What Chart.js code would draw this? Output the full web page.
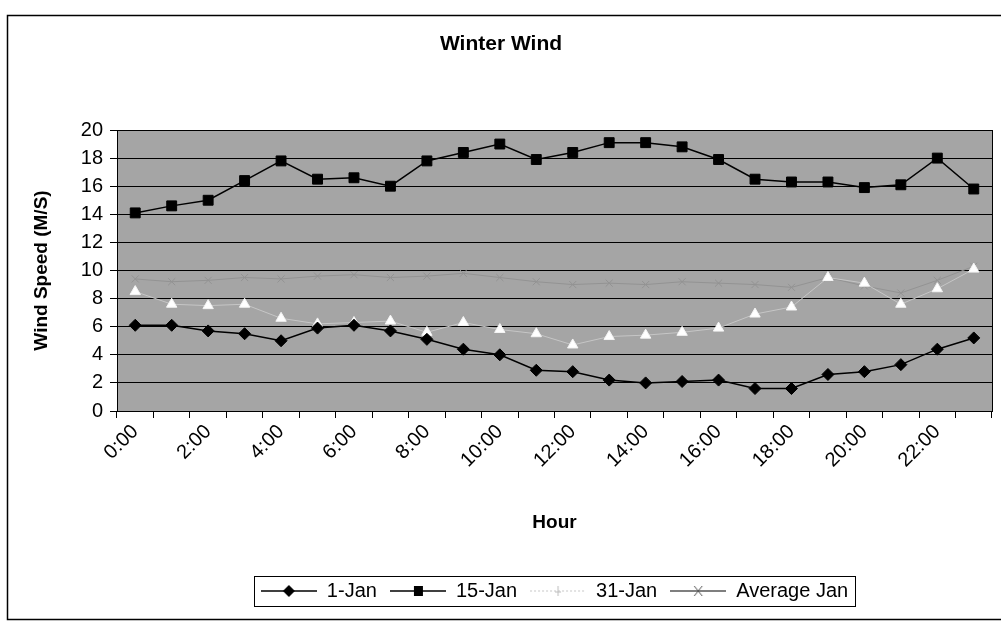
<!DOCTYPE html>
<html>

<head>
    <meta charset="utf-8">
    <title>Winter Wind</title>
    <script src="https://cdn.jsdelivr.net/npm/chart.js"></script>
    <style>
        html, body { margin: 0; padding: 0; background: #ffffff; }
        #grafico { display: block; }
    </style>
</head>

<body>
    <canvas id="grafico" width="1001" height="624"></canvas>

    <script>
        // Dados (velocidade do vento em m/s, por hora)
        var horas = ["0:00", "1:00", "2:00", "3:00", "4:00", "5:00", "6:00", "7:00",
            "8:00", "9:00", "10:00", "11:00", "12:00", "13:00", "14:00", "15:00",
            "16:00", "17:00", "18:00", "19:00", "20:00", "21:00", "22:00", "23:00"];
        var nomesSeries = ["1-Jan", "15-Jan", "31-Jan", "Average Jan"];
        var jan1 = [6.1, 6.1, 5.7, 5.5, 5.0, 5.9, 6.1, 5.7, 5.1, 4.4, 4.0, 2.9,
            2.8, 2.2, 2.0, 2.1, 2.2, 1.6, 1.6, 2.6, 2.8, 3.3, 4.4, 5.2];
        var jan15 = [14.1, 14.6, 15.0, 16.4, 17.8, 16.5, 16.6, 16.0, 17.8, 18.4, 19.0, 17.9,
            18.4, 19.1, 19.1, 18.8, 17.9, 16.5, 16.3, 16.3, 15.9, 16.1, 18.0, 15.8];
        var jan31 = [8.5, 7.6, 7.5, 7.6, 6.6, 6.2, 6.3, 6.4, 5.6, 6.3, 5.8, 5.5,
            4.7, 5.3, 5.4, 5.6, 5.9, 6.9, 7.4, 9.5, 9.1, 7.6, 8.7, 10.1];
        var mediaJan = [9.4, 9.2, 9.3, 9.5, 9.4, 9.6, 9.7, 9.5, 9.6, 9.8, 9.5, 9.2,
            9.0, 9.1, 9.0, 9.2, 9.1, 9.0, 8.8, 9.5, 8.9, 8.4, 9.3, 10.3];
        var ticksY = [0, 2, 4, 6, 8, 10, 12, 14, 16, 18, 20];

        var fonte = "'Liberation Sans', Arial, sans-serif";
        var tam = { titulo: 21, eixoY: 20, eixoX: 20, tituloEixo: 19, legenda: 20 };

        var corFundoPlot = "#a5a5a5";
        var corMedia = "#939393";
        var cor31 = "#c6c6c6";

        // Posicoes verticais: base do grafico em 410, legenda logo abaixo do titulo "Hour"
        var baseGrafico = 410;
        var padLegenda = 13;
        var topoLegenda = 588 - padLegenda - tam.legenda / 2;
        var alturaLegenda = tam.legenda + 2 * padLegenda;
        var alturaEixoX = topoLegenda - baseGrafico + 2;

        // Desenha o simbolo da legenda (linha + marcador) num pequeno canvas
        function simboloLegenda(tipo) {
            var c = document.createElement("canvas");
            c.width = 56;
            c.height = 16;
            var g = c.getContext("2d");
            var meio = 8;
            var cx = 28;
            g.lineWidth = tipo === "tri" ? 1 : 1.5;
            g.strokeStyle = tipo === "tri" ? "#c8c8c8" : (tipo === "x" ? "#555555" : "#000000");
            if (tipo === "tri") g.setLineDash([2, 2]);
            g.beginPath();
            g.moveTo(0, meio);
            g.lineTo(56, meio);
            g.stroke();
            g.setLineDash([]);
            g.fillStyle = "#000000";
            if (tipo === "losango") {
                g.beginPath();
                g.moveTo(cx, meio - 6);
                g.lineTo(cx + 6, meio);
                g.lineTo(cx, meio + 6);
                g.lineTo(cx - 6, meio);
                g.closePath();
                g.fill();
            } else if (tipo === "quadrado") {
                g.fillRect(cx - 4, meio - 5, 9, 10);
            } else if (tipo === "tri") {
                g.strokeStyle = "#bdbdbd";
                g.lineWidth = 1;
                g.beginPath();
                g.moveTo(cx, meio - 5);
                g.lineTo(cx, meio + 5);
                g.moveTo(cx - 3, meio + 1);
                g.lineTo(cx + 3, meio + 1);
                g.stroke();
            } else {
                g.strokeStyle = "#555555";
                g.lineWidth = 1;
                g.beginPath();
                g.moveTo(cx - 4, meio - 5);
                g.lineTo(cx + 4, meio + 5);
                g.moveTo(cx + 4, meio - 5);
                g.lineTo(cx - 4, meio + 5);
                g.stroke();
            }
            return c;
        }

        var simbolos = [simboloLegenda("losango"), simboloLegenda("quadrado"),
            simboloLegenda("tri"), simboloLegenda("x")];

        // Fundo cinza da area do grafico, moldura e caixa da legenda
        var molduras = {
            id: "molduras",
            beforeDraw: function (chart) {
                var ctx = chart.ctx;
                var a = chart.chartArea;
                ctx.save();
                ctx.fillStyle = "#ffffff";
                ctx.fillRect(0, 0, chart.width, chart.height);
                ctx.fillStyle = corFundoPlot;
                ctx.fillRect(a.left, a.top, a.right - a.left, a.bottom - a.top);
                ctx.restore();
            },
            beforeDatasetsDraw: function (chart) {
                var ctx = chart.ctx;
                var a = chart.chartArea;
                ctx.save();
                ctx.strokeStyle = "#000000";
                ctx.lineWidth = 1;
                ctx.strokeRect(Math.round(a.left) + 0.5, Math.round(a.top) + 0.5,
                    Math.round(a.right - a.left), Math.round(a.bottom - a.top));
                ctx.restore();
            },
            afterDraw: function (chart) {
                var ctx = chart.ctx;
                ctx.save();
                ctx.strokeStyle = "#000000";
                ctx.lineWidth = 1.5;
                // moldura externa
                ctx.strokeRect(7.5, 15.5, chart.width, 604);
                // caixa em volta da legenda
                var caixas = chart.legend.legendHitBoxes;
                if (caixas && caixas.length) {
                    var esq = Infinity, dir = -Infinity, topo = Infinity, base = -Infinity;
                    caixas.forEach(function (b) {
                        esq = Math.min(esq, b.left);
                        dir = Math.max(dir, b.left + b.width);
                        topo = Math.min(topo, b.top);
                        base = Math.max(base, b.top + b.height);
                    });
                    ctx.lineWidth = 1;
                    ctx.strokeRect(Math.round(esq - 7) + 0.5, Math.round(topo - 5) + 0.5,
                        Math.round(dir - esq + 14), Math.round(base - topo + 10));
                }
                ctx.restore();
            }
        };

        var ctx = document.getElementById("grafico").getContext("2d");

        var grafico = new Chart(ctx, {
            type: "line",
            data: {
                labels: horas,
                datasets: [
                    {
                        label: nomesSeries[0],
                        data: jan1,
                        borderColor: "#000000",
                        borderWidth: 1.5,
                        pointStyle: "rectRot",
                        pointRadius: 6,
                        pointBackgroundColor: "#000000",
                        pointBorderColor: "#000000",
                        pointBorderWidth: 1
                    },
                    {
                        label: nomesSeries[1],
                        data: jan15,
                        borderColor: "#000000",
                        borderWidth: 1.5,
                        pointStyle: "rect",
                        pointRadius: 7,
                        pointBackgroundColor: "#000000",
                        pointBorderColor: "#000000",
                        pointBorderWidth: 1
                    },
                    {
                        label: nomesSeries[2],
                        data: jan31,
                        borderColor: cor31,
                        borderWidth: 1,
                        pointStyle: "triangle",
                        pointRadius: 6,
                        pointBackgroundColor: "#ffffff",
                        pointBorderColor: "#f4f4f4",
                        pointBorderWidth: 1
                    },
                    {
                        label: nomesSeries[3],
                        data: mediaJan,
                        borderColor: corMedia,
                        borderWidth: 1,
                        pointStyle: "crossRot",
                        pointRadius: 5,
                        pointBorderColor: corMedia,
                        pointBorderWidth: 1
                    }
                ]
            },
            options: {
                responsive: false,
                animation: false,
                devicePixelRatio: 1,
                layout: {
                    padding: { left: 10, right: 9, top: 0, bottom: 624 - topoLegenda - alturaLegenda }
                },
                plugins: {
                    title: {
                        display: true,
                        text: "Winter Wind",
                        color: "#000000",
                        font: { family: fonte, size: tam.titulo, weight: "bold" },
                        padding: { top: 44 - tam.titulo * 0.6, bottom: 130 - 44 - tam.titulo * 0.6 }
                    },
                    legend: {
                        display: true,
                        position: "bottom",
                        fullSize: false,
                        labels: {
                            color: "#000000",
                            font: { family: fonte, size: tam.legenda },
                            usePointStyle: true,
                            pointStyleWidth: 56,
                            padding: padLegenda,
                            generateLabels: function (chart) {
                                var itens = Chart.defaults.plugins.legend.labels.generateLabels(chart);
                                itens.forEach(function (item, i) {
                                    item.pointStyle = simbolos[i];
                                });
                                return itens;
                            }
                        }
                    },
                    tooltip: { enabled: false }
                },
                scales: {
                    x: {
                        offset: true,
                        afterFit: function (scale) { scale.height = alturaEixoX; },
                        grid: {
                            offset: true,
                            drawOnChartArea: false,
                            drawTicks: true,
                            tickLength: 7,
                            color: "#000000"
                        },
                        border: { display: true, color: "#000000", width: 1 },
                        ticks: {
                            autoSkip: false,
                            minRotation: 45,
                            maxRotation: 45,
                            padding: 2,
                            color: "#000000",
                            font: { family: fonte, size: tam.eixoX },
                            callback: function (valor, indice) {
                                return indice % 2 === 0 ? horas[indice] : "";
                            }
                        },
                        title: {
                            display: true,
                            text: "Hour",
                            color: "#000000",
                            font: { family: fonte, size: tam.tituloEixo, weight: "bold" },
                            padding: { top: 0, bottom: topoLegenda - 520 - tam.tituloEixo * 0.6 }
                        }
                    },
                    y: {
                        min: ticksY[0],
                        max: ticksY[ticksY.length - 1],
                        afterFit: function (scale) { scale.width = 107; },
                        afterBuildTicks: function (scale) {
                            scale.ticks = ticksY.map(function (v) { return { value: v }; });
                        },
                        grid: {
                            color: "#000000",
                            lineWidth: 1,
                            drawTicks: true,
                            tickLength: 7
                        },
                        border: { display: true, color: "#000000", width: 1 },
                        ticks: {
                            padding: 7,
                            color: "#000000",
                            font: { family: fonte, size: tam.eixoY }
                        },
                        title: {
                            display: true,
                            text: "Wind Speed (M/S)",
                            color: "#000000",
                            font: { family: fonte, size: tam.tituloEixo, weight: "bold" },
                            padding: { top: 42 - 10 - tam.tituloEixo * 0.6, bottom: 0 }
                        }
                    }
                }
            },
            plugins: [molduras]
        });
    </script>
</body>

</html>
